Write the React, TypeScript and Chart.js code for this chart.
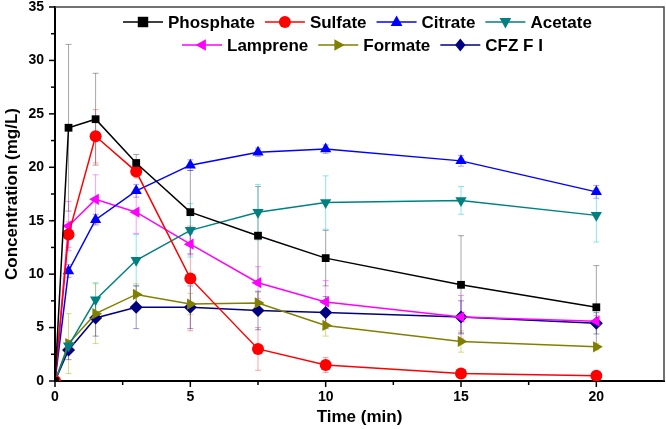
import React, { useEffect, useRef } from "react";
import { Chart, registerables } from "chart.js";

Chart.register(...registerables);

const timeMin = [0, 0.5, 1.5, 3, 5, 7.5, 10, 15, 20];

const phosphate = [0, 23.7, 24.5, 20.4, 15.8, 13.6, 11.5, 9.0, 6.9];
const phosphateErr = [0, 7.8, 4.3, 0.8, 3.9, 4.6, 2.6, 4.6, 3.9];
const sulfate = [0, 13.7, 22.9, 19.6, 9.6, 3.0, 1.5, 0.7, 0.5];
const sulfateErr = [0, 1.2, 2.5, 0.6, 4.9, 2.0, 0.7, 0.3, 0.2];
const citrate = [0, 10.3, 15.1, 17.8, 20.2, 21.4, 21.7, 20.6, 17.7];
const citrateErr = [0, 0.6, 0.5, 0.6, 0.5, 0.4, 0.4, 0.5, 0.6];
const acetate = [0, 3.3, 7.6, 11.3, 14.1, 15.8, 16.7, 16.9, 15.5];
const acetateErr = [0, 0.5, 1.6, 2.4, 2.5, 2.6, 2.5, 1.3, 2.5];
const lamprene = [0, 14.5, 17.0, 15.8, 12.8, 9.2, 7.4, 6.0, 5.6];
const lampreneErr = [0, 2.3, 2.3, 2.0, 1.0, 1.5, 2.0, 2.0, 0.5];
const formate = [0, 3.5, 6.3, 8.1, 7.2, 7.3, 5.2, 3.7, 3.2];
const formateErr = [0, 2.8, 2.8, 1.0, 1.0, 1.0, 1.0, 1.0, 0.3];
const cfzFI = [0, 2.9, 5.9, 6.9, 6.9, 6.6, 6.4, 6.0, 5.4];
const cfzFIErr = [0, 0.9, 1.7, 2.0, 2.0, 1.8, 1.5, 1.5, 1.0];

const seriesNames = ["Phosphate", "Sulfate", "Citrate", "Acetate", "Lamprene", "Formate", "CFZ F I"];
const seriesColors = ["#000000", "#ff0000", "#0000ff", "#008080", "#ff00ff", "#808000", "#000080"];
const errColors = [
  "rgba(0,0,0,0.35)",
  "rgba(255,0,0,0.35)",
  "rgba(0,0,255,0.35)",
  "rgba(0,200,210,0.45)",
  "rgba(255,0,255,0.4)",
  "rgba(170,170,0,0.45)",
  "rgba(0,0,128,0.4)",
];
const seriesValues = [phosphate, sulfate, citrate, acetate, lamprene, formate, cfzFI];
const seriesErrors = [phosphateErr, sulfateErr, citrateErr, acetateErr, lampreneErr, formateErr, cfzFIErr];
const seriesMarkers = ["rect", "circle", "triangle", "triangle", "triangle", "triangle", "rectRot"];
const seriesRotations = [0, 0, 0, 180, 270, 90, 0];
const seriesRadius = [5.5, 6, 6.5, 6.5, 6.5, 6.5, 6.5];

const xTitle = "Time (min)";
const yTitle = "Concentration (mg/L)";
const FONT = "'Liberation Sans', Arial, sans-serif";

function drawMarker(ctx: CanvasRenderingContext2D, style: string, rot: number, r: number, x: number, y: number, color: string) {
  ctx.save();
  ctx.translate(x, y);
  ctx.rotate((rot * Math.PI) / 180);
  ctx.fillStyle = color;
  ctx.beginPath();
  if (style === "rect") {
    const s = r * 0.95;
    ctx.rect(-s, -s, 2 * s, 2 * s);
  } else if (style === "circle") {
    ctx.arc(0, 0, r, 0, Math.PI * 2);
  } else if (style === "triangle") {
    ctx.moveTo(0, -r);
    ctx.lineTo(r * 0.9, r * 0.6);
    ctx.lineTo(-r * 0.9, r * 0.6);
    ctx.closePath();
  } else {
    ctx.moveTo(0, -r);
    ctx.lineTo(r * 0.8, 0);
    ctx.lineTo(0, r);
    ctx.lineTo(-r * 0.8, 0);
    ctx.closePath();
  }
  ctx.fill();
  ctx.restore();
}

const errorBarPlugin = {
  id: "errorBars",
  beforeDatasetsDraw(chart: any) {
    const { ctx } = chart;
    const xs = chart.scales.x;
    const ys = chart.scales.y;
    ctx.save();
    ctx.lineWidth = 1;
    seriesValues.forEach((vals, si) => {
      ctx.strokeStyle = errColors[si];
      vals.forEach((v, i) => {
        const e = seriesErrors[si][i];
        if (!e) return;
        const px = xs.getPixelForValue(timeMin[i]);
        const top = ys.getPixelForValue(v + e);
        const bot = ys.getPixelForValue(Math.max(0, v - e));
        ctx.beginPath();
        ctx.moveTo(px, top);
        ctx.lineTo(px, bot);
        ctx.moveTo(px - 3, top);
        ctx.lineTo(px + 3, top);
        ctx.moveTo(px - 3, bot);
        ctx.lineTo(px + 3, bot);
        ctx.stroke();
      });
    });
    ctx.restore();
  },
};

const framePlugin = {
  id: "frameTicks",
  afterDraw(chart: any) {
    const { ctx, chartArea } = chart;
    const xs = chart.scales.x;
    const ys = chart.scales.y;
    ctx.save();
    ctx.strokeStyle = "#444";
    ctx.lineWidth = 1.5;
    ctx.beginPath();
    ctx.moveTo(chartArea.left, chartArea.top);
    ctx.lineTo(chartArea.right, chartArea.top);
    ctx.lineTo(chartArea.right, chartArea.bottom);
    ctx.stroke();
    ctx.strokeStyle = "#000";
    ctx.lineWidth = 1.5;
    for (let v = 0; v <= 20.01; v += 2.5) {
      const px = xs.getPixelForValue(v);
      const major = Math.abs(v % 5) < 0.01;
      ctx.beginPath();
      ctx.moveTo(px, chartArea.bottom);
      ctx.lineTo(px, chartArea.bottom + (major ? 6 : 4));
      ctx.stroke();
    }
    for (let v = 0; v <= 35.01; v += 2.5) {
      const py = ys.getPixelForValue(v);
      const major = Math.abs(v % 5) < 0.01;
      ctx.beginPath();
      ctx.moveTo(chartArea.left, py);
      ctx.lineTo(chartArea.left - (major ? 6 : 4), py);
      ctx.stroke();
    }
    ctx.font = `bold 17px ${FONT}`;
    ctx.textBaseline = "middle";
    ctx.textAlign = "left";
    const rows = [
      { start: 123, y: 22, items: [0, 1, 2, 3] },
      { start: 182, y: 45, items: [4, 5, 6] },
    ];
    rows.forEach((row) => {
      let x = row.start;
      row.items.forEach((si) => {
        ctx.strokeStyle = seriesColors[si];
        ctx.lineWidth = 1.5;
        ctx.beginPath();
        ctx.moveTo(x, row.y);
        ctx.lineTo(x + 40, row.y);
        ctx.stroke();
        drawMarker(ctx, seriesMarkers[si], seriesRotations[si], seriesRadius[si], x + 20, row.y, seriesColors[si]);
        ctx.fillStyle = "#000";
        ctx.fillText(seriesNames[si], x + 45, row.y + 1);
        x += 45 + ctx.measureText(seriesNames[si]).width + 10;
      });
    });
    ctx.restore();
  },
};

export default function App() {
  const canvasRef = useRef<HTMLCanvasElement>(null);

  useEffect(() => {
    document.body.style.margin = "0";
    const canvas = canvasRef.current;
    if (!canvas) return;
    const datasets = seriesNames.map((name, si) => ({
      label: name,
      data: timeMin.map((t, i) => ({ x: t, y: seriesValues[si][i] })),
      borderColor: seriesColors[si],
      backgroundColor: seriesColors[si],
      borderWidth: 1.5,
      pointStyle: seriesMarkers[si],
      rotation: seriesRotations[si],
      pointRadius: seriesRadius[si],
      pointBorderWidth: 0,
      showLine: true,
      tension: 0,
      clip: 0,
    }));
    const chart = new Chart(canvas, {
      type: "scatter",
      data: { datasets },
      options: {
        responsive: false,
        animation: false,
        devicePixelRatio: 1,
        layout: { autoPadding: false, padding: { top: 7, right: 2, left: 0, bottom: 0 } },
        plugins: { legend: { display: false }, tooltip: { enabled: false } },
        scales: {
          x: {
            type: "linear",
            min: 0,
            max: 22.5,
            afterFit: (s: any) => {
              s.height = 48;
              s.paddingLeft = 0;
              s.paddingRight = 0;
            },
            grid: { display: false, drawTicks: false, tickLength: 0 },
            border: { display: true, color: "#000", width: 2 },
            ticks: {
              stepSize: 5,
              includeBounds: false,
              color: "#000",
              padding: 8,
              font: { family: FONT, size: 14, weight: "bold" },
            },
            title: {
              display: true,
              text: xTitle,
              color: "#000",
              font: { family: FONT, size: 17, weight: "bold" },
              padding: { top: 0, bottom: 1 },
            },
          },
          y: {
            type: "linear",
            min: 0,
            max: 35,
            afterFit: (s: any) => {
              s.width = 55;
              s.paddingTop = 0;
              s.paddingBottom = 0;
            },
            grid: { display: false, drawTicks: false, tickLength: 0 },
            border: { display: true, color: "#000", width: 2 },
            ticks: {
              stepSize: 5,
              color: "#000",
              padding: 11,
              font: { family: FONT, size: 14, weight: "bold" },
            },
            title: {
              display: true,
              text: yTitle,
              color: "#000",
              font: { family: FONT, size: 17, weight: "bold" },
              padding: { top: 2, bottom: 0 },
            },
          },
        },
      },
      plugins: [errorBarPlugin, framePlugin],
    } as any);
    return () => chart.destroy();
  }, []);

  return (
    <div style={{ width: 666, height: 429 }}>
      <canvas ref={canvasRef} width={666} height={429} style={{ display: "block" }} />
    </div>
  );
}
